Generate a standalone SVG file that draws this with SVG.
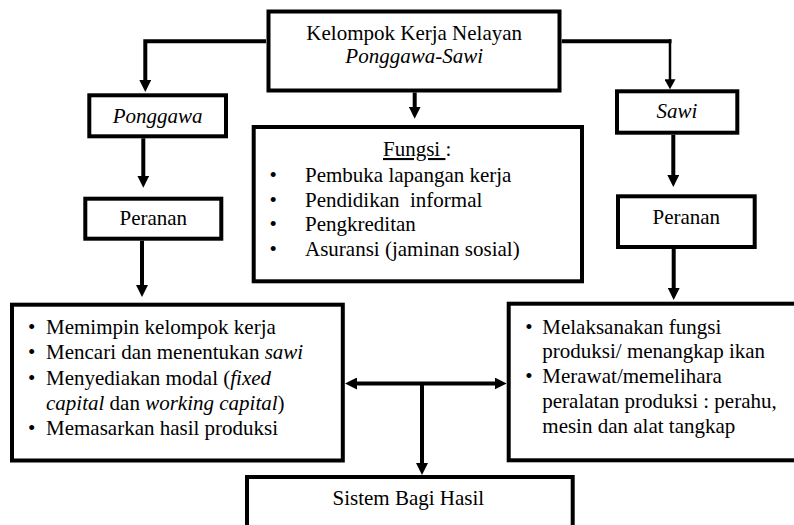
<svg xmlns="http://www.w3.org/2000/svg" width="794" height="525" viewBox="0 0 794 525">
<style>
  .box { fill: #ffffff; stroke: #000000; stroke-width: 4; }
  .t { font-family: "Liberation Serif", "Times New Roman", serif; font-size: 21px; fill: #000000; }
  .c { text-anchor: middle; }
  .i { font-style: italic; }
  .ln { fill: none; stroke: #000000; stroke-width: 4; }
  .thin { fill: none; stroke: #000000; stroke-width: 2.5; }
</style>
<defs>
  <marker id="ah" markerUnits="userSpaceOnUse" markerWidth="12" markerHeight="12" refX="2" refY="6" orient="auto-start-reverse" viewBox="0 0 12 12">
    <path d="M0,0 L12,6 L0,12 z" fill="#000000"/>
  </marker>
  <marker id="ahs" markerUnits="userSpaceOnUse" markerWidth="10" markerHeight="11" refX="2" refY="5.5" orient="auto" viewBox="0 0 10 11">
    <path d="M0,0 L10,5.5 L0,11 z" fill="#000000"/>
  </marker>
</defs>
<rect width="794" height="525" fill="#ffffff"/>

<g id="connectors">
  <path class="ln" d="M266,41.3 H145.3 V82" marker-end="url(#ah)"/>
  <path class="ln" d="M143.3,138.3 V177.7" marker-end="url(#ah)"/>
  <path class="ln" d="M142,240.7 V287" marker-end="url(#ah)"/>
  <path class="ln" d="M414.7,92.5 V108.7" marker-end="url(#ah)"/>
  <path class="ln" d="M561.7,41.3 H671.5"/>
  <path class="thin" d="M670,39.3 V81.3" marker-end="url(#ahs)"/>
  <path class="ln" d="M673.3,134.7 V177" marker-end="url(#ah)"/>
  <path class="ln" d="M673.7,249 V290" marker-end="url(#ah)"/>
  <path class="ln" d="M355,383.5 H496.7" marker-start="url(#ah)" marker-end="url(#ah)"/>
  <path class="ln" d="M422,383.5 V465" marker-end="url(#ah)"/>
</g>

<g id="kelompok">
  <rect class="box" x="268.5" y="11.5" width="291" height="79"/>
  <text class="t c" x="414.2" y="40">Kelompok Kerja Nelayan</text>
  <text class="t c i" x="414.2" y="63">Ponggawa-Sawi</text>
</g>

<g id="ponggawa">
  <rect class="box" x="89.3" y="95.3" width="136.7" height="41"/>
  <text class="t c i" x="157.7" y="123">Ponggawa</text>
</g>

<g id="peranan-left">
  <rect class="box" x="85.3" y="198.7" width="136" height="40"/>
  <text class="t c" x="153.3" y="225">Peranan</text>
</g>

<g id="fungsi">
  <rect class="box" x="253.7" y="127" width="328.3" height="154.3"/>
  <text class="t" x="383" y="156"><tspan text-decoration="underline">Fungsi </tspan>:</text>
  <text class="t" x="269.5" y="182">•</text>
  <text class="t" x="305" y="182">Pembuka lapangan kerja</text>
  <text class="t" x="269.5" y="206.5">•</text>
  <text class="t" x="305" y="206.5" style="white-space:pre">Pendidikan  informal</text>
  <text class="t" x="269.5" y="231">•</text>
  <text class="t" x="305" y="231">Pengkreditan</text>
  <text class="t" x="269.5" y="255.5">•</text>
  <text class="t" x="305" y="255.5">Asuransi (jaminan sosial)</text>
</g>

<g id="sawi">
  <rect class="box" x="617" y="91.3" width="120.3" height="41.4"/>
  <text class="t c i" x="677" y="118">Sawi</text>
</g>

<g id="peranan-right">
  <rect class="box" x="618" y="196.3" width="136.7" height="50.7"/>
  <text class="t c" x="686.3" y="224">Peranan</text>
</g>

<g id="peran-ponggawa">
  <rect class="box" x="12" y="304.7" width="330.8" height="155.8"/>
  <text class="t" x="28" y="334">•</text>
  <text class="t" x="46" y="334">Memimpin kelompok kerja</text>
  <text class="t" x="28" y="359.3">•</text>
  <text class="t" x="46" y="359.3">Mencari dan menentukan <tspan class="i">sawi</tspan></text>
  <text class="t" x="28" y="384.8">•</text>
  <text class="t" x="46" y="384.8">Menyediakan modal (<tspan class="i">fixed</tspan></text>
  <text class="t" x="46" y="410"><tspan class="i">capital</tspan> dan <tspan class="i">working capital</tspan>)</text>
  <text class="t" x="28" y="435">•</text>
  <text class="t" x="46" y="435">Memasarkan hasil produksi</text>
</g>

<g id="peran-sawi">
  <rect class="box" x="508.7" y="303.7" width="300" height="156.6"/>
  <text class="t" x="525.3" y="334">•</text>
  <text class="t" x="542.3" y="334">Melaksanakan fungsi</text>
  <text class="t" x="542.3" y="358.3">produksi/ menangkap ikan</text>
  <text class="t" x="525.3" y="383.3">•</text>
  <text class="t" x="542.3" y="383.3">Merawat/memelihara</text>
  <text class="t" x="542.3" y="408.3">peralatan produksi : perahu,</text>
  <text class="t" x="542.3" y="432.7">mesin dan alat tangkap</text>
</g>

<g id="sistem">
  <rect class="box" x="247" y="477" width="325.7" height="70"/>
  <text class="t c" x="408.3" y="505">Sistem Bagi Hasil</text>
</g>
</svg>
